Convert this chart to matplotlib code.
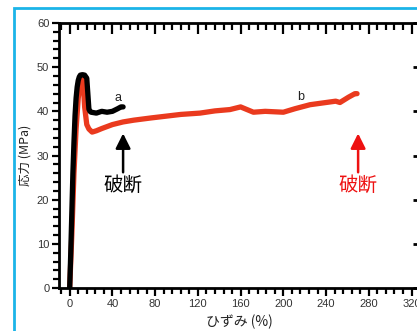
import matplotlib.pyplot as plt
from matplotlib.patches import Rectangle
from matplotlib.ticker import MultipleLocator

# Data

strain_a = [0, 1, 2, 3, 4, 5, 6, 7, 8, 9, 10, 12, 14, 16, 17, 18, 19, 20,
            25, 30, 35, 40, 45, 48, 50]
stress_a = [0, 8, 17, 26, 33, 39, 43, 45.5, 47, 47.8, 48.2, 48.3, 48.2, 47.5,
            44, 40.5, 40, 39.8, 39.6, 40, 39.8, 40, 40.6, 41, 41]

strain_b = [0, 2, 4, 6, 8, 10, 11, 12, 13, 14, 16, 18, 21, 25, 30, 40, 50,
            60, 76, 90, 104, 122, 136, 150, 160, 172, 183, 200, 211, 225,
            240, 249, 253, 261, 267, 269]
stress_b = [0, 12, 26, 36, 43, 46.8, 47.5, 47, 45, 41, 37, 36, 35.3, 35.6,
            36.1, 37, 37.6, 38, 38.5, 38.9, 39.3, 39.6, 40.1, 40.4, 41,
            39.8, 40, 39.8, 40.6, 41.5, 42, 42.3, 42, 43.2, 44, 44]

label_points = {"a": (45, 43), "b": (216, 43.3)}
break_strain = {"a": 50, "b": 270}

JP = ["Noto Sans CJK JP", "DejaVu Sans"]
TICK_COLOR = "#333333"
LINE_RED = "#ea3a1e"
ARROW_RED = "#ee1111"

fig = plt.figure(figsize=(4.17, 3.31), dpi=100)

# Cyan frame round the figure
fig.patches.append(
    Rectangle((14 / 417, -0.1), 1.2, 1 - 8 / 331 + 0.1,
              transform=fig.transFigure, fill=False,
              edgecolor="#1bb4e8", linewidth=2)
)

ax = fig.add_axes([59 / 417, 1 - 288 / 331, (419 - 59) / 417, (288 - 23) / 331])

ax.plot(strain_b, stress_b, color=LINE_RED, linewidth=3.8,
        solid_capstyle="round", solid_joinstyle="round", zorder=2)
ax.plot(strain_a, stress_a, color="black", linewidth=3.8,
        solid_capstyle="round", solid_joinstyle="round", zorder=3)

for name, (x, y) in label_points.items():
    ax.text(x, y, name, fontsize=9, color="#222222", ha="center", va="center",
            family="Liberation Sans")

# Break arrows
for name, colour in (("a", "black"), ("b", ARROW_RED)):
    x = break_strain[name]
    ax.annotate("", xy=(x, 35), xytext=(x, 26.2),
                arrowprops=dict(arrowstyle="-|>,head_length=0.9,head_width=0.45",
                                color=colour, lw=1.8, shrinkA=0, shrinkB=0))
    ax.text(x, 23.2, "破断", fontsize=14, color=colour,
            ha="center", va="center", family=JP)

ax.set_xlim(-10, 327)
ax.set_ylim(0, 60)

ax.xaxis.set_major_locator(MultipleLocator(40))
ax.xaxis.set_minor_locator(MultipleLocator(8))
ax.yaxis.set_major_locator(MultipleLocator(10))
ax.yaxis.set_minor_locator(MultipleLocator(2))

# bottom ticks point out, top ticks point in: both hang below their spine
ax.tick_params(axis="x", which="both", bottom=True, top=False,
               direction="out", width=1.6, color="black")
ax.tick_params(axis="x", which="major", length=6)
ax.tick_params(axis="x", which="minor", length=4)
ax.tick_params(axis="y", which="both", left=True, right=False,
               direction="out", width=1.6, color="black")
ax.tick_params(axis="y", which="major", length=5)
ax.tick_params(axis="y", which="minor", length=4)
ax.tick_params(labelsize=8, labelcolor=TICK_COLOR, pad=2)

top = ax.secondary_xaxis("top")
top.xaxis.set_major_locator(MultipleLocator(40))
top.xaxis.set_minor_locator(MultipleLocator(8))
top.tick_params(axis="x", which="both", direction="in", width=1.6,
                labeltop=False)
top.tick_params(axis="x", which="major", length=8)
top.tick_params(axis="x", which="minor", length=5)
top.spines["top"].set_linewidth(2)

right = ax.secondary_yaxis("right")
right.yaxis.set_major_locator(MultipleLocator(10))
right.yaxis.set_minor_locator(MultipleLocator(100))
right.tick_params(axis="y", which="major", direction="in", length=4,
                  width=2, labelright=False)
right.spines["right"].set_visible(False)

for lab in ax.get_xticklabels() + ax.get_yticklabels():
    lab.set_family("Liberation Sans")

ax.spines["right"].set_visible(False)
ax.spines["top"].set_visible(False)
for side in ("left", "bottom"):
    ax.spines[side].set_linewidth(2)

ax.set_xlabel("ひずみ (%)", fontsize=10, family=JP, color="#222222", labelpad=4)
ax.set_ylabel("応力 (MPa)", fontsize=9, family=JP, color="#222222", labelpad=4)

fig.savefig("out.png", dpi=100)
